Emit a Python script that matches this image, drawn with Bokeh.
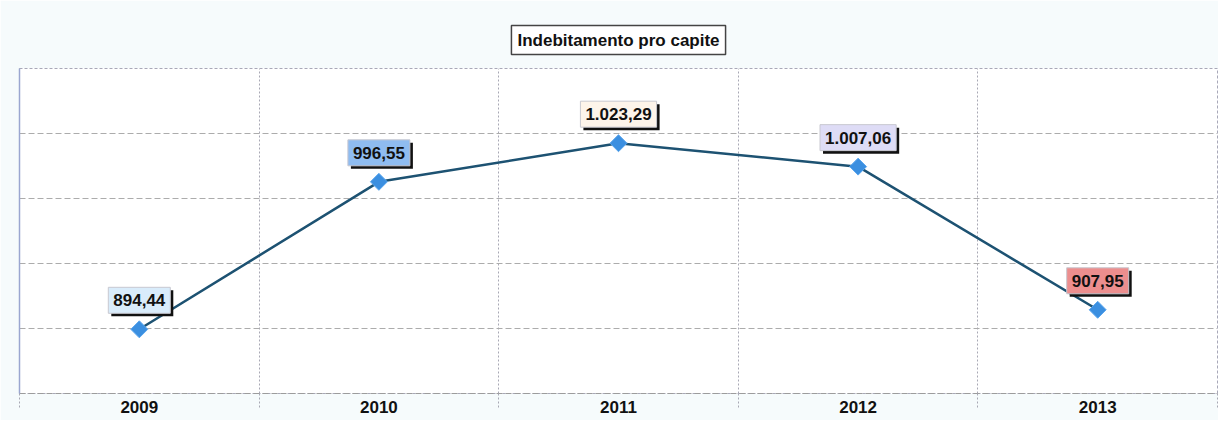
import math
from bokeh.plotting import figure
from bokeh.models import ColumnDataSource, Range1d, FixedTicker
from bokeh.core.properties import value
from bokeh.embed import file_html
from bokeh.resources import INLINE

# ---- data ----
years = [2009, 2010, 2011, 2012, 2013]
debt_per_capita = [894.44, 996.55, 1023.29, 1007.06, 907.95]
value_labels = ["894,44", "996,55", "1.023,29", "1.007,06", "907,95"]
title_text = "Indebitamento pro capite"

# ---- styling (not data) ----
label_colors = ["#d9ecfb", "#8fbcf0", "#fdf4ea", "#dedcf6", "#ec8e8e"]
FONT = "Liberation Sans"

src = ColumnDataSource(dict(x=years, y=debt_per_capita, lab=value_labels, col=label_colors))

p = figure(width=1218, height=420, output_backend="svg", toolbar_location=None,
           x_range=Range1d(years[0] - 0.5, years[-1] + 0.5),
           y_range=Range1d(850, 1075),
           min_border_left=19, min_border_right=1, min_border_top=68, min_border_bottom=27)

p.background_fill_color = "white"
p.border_fill_color = "#f6fbfc"
p.outline_line_color = "#a8a8b8"
p.outline_line_dash = "3 2"

# title box
p.title.text = title_text
p.title.align = "center"
p.title.text_font = FONT
p.title.text_font_style = "bold"
p.title.text_font_size = "17px"
p.title.text_color = "#111111"
p.title.background_fill_color = "white"
p.title.border_line_color = "#444444"
p.title.border_line_width = 1.5
p.title.padding = (6, 5)
p.title.standoff = 28

# grids
p.ygrid.ticker = FixedTicker(ticks=[850, 895, 940, 985, 1030, 1075])
p.ygrid.grid_line_color = "#acacac"
p.ygrid.grid_line_dash = "6 3"
p.xgrid.ticker = FixedTicker(ticks=[y + 0.5 for y in years[:-1]])
p.xgrid.grid_line_color = "#a8a8b4"
p.xgrid.grid_line_dash = "2 2"

# axes
p.yaxis.major_label_text_font_size = "0px"
p.yaxis.major_tick_line_color = None
p.yaxis.minor_tick_line_color = None
p.yaxis.axis_line_color = "#9aa6d0"
p.yaxis.axis_line_width = 1.5
p.yaxis.ticker = FixedTicker(ticks=[])

p.xaxis.ticker = FixedTicker(ticks=years, minor_ticks=[y - 0.5 for y in years] + [years[-1] + 0.5])
p.xaxis.major_tick_line_color = None
p.xaxis.major_tick_out = 0
p.xaxis.major_tick_in = 0
p.xaxis.minor_tick_in = 0
p.xaxis.minor_tick_out = 14
p.xaxis.minor_tick_line_color = "#a8a8b4"
p.xaxis.minor_tick_line_dash = "2 2"
p.xaxis.axis_line_color = "#9c9c9c"
p.xaxis.axis_line_dash = "6 3"
p.xaxis.major_label_text_font = FONT
p.xaxis.major_label_text_font_style = "bold"
p.xaxis.major_label_text_font_size = "17px"
p.xaxis.major_label_text_color = "#111111"
p.xaxis.major_label_standoff = -7

# series
p.line("x", "y", source=src, line_color="#1d5272", line_width=2.5)
p.scatter("x", "y", source=src, marker="square", angle=math.pi / 4, size=12,
          fill_color="#3b8fe0", line_color="#5aa6ee", line_width=1)

# value labels with shadow
common = dict(text_align="center", text_baseline="bottom", text_font=value(FONT),
              text_font_style="bold", text_font_size="17px", padding=(5, 7))
p.text("x", "y", text="lab", source=src, x_offset=3, y_offset=-16 + 3,
       text_alpha=0, background_fill_color="#111111", **common)
p.text("x", "y", text="lab", source=src, x_offset=0, y_offset=-16,
       text_color="#111111", background_fill_color="col",
       border_line_color="#c8c8d0", border_line_width=1, **common)

open("out.html", "w").write(file_html(p, INLINE))
